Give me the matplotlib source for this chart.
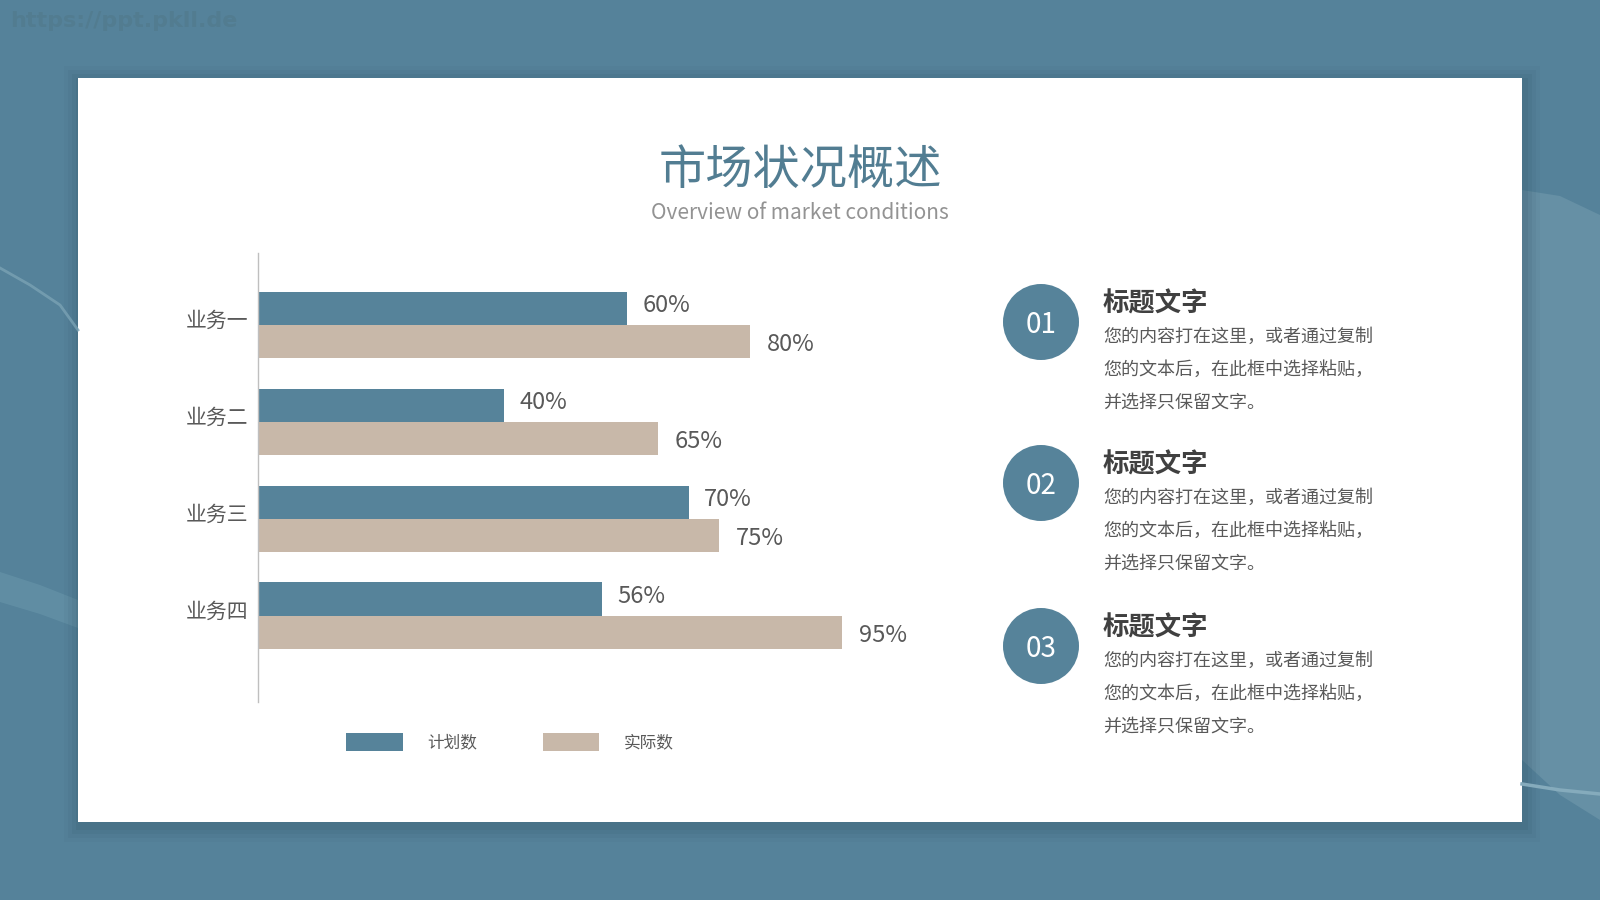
"""
市场状况概述：计划数 vs 实际数 横向条形图 + 右侧三段说明文字
"""

import matplotlib
matplotlib.use("Agg")
import matplotlib.pyplot as plt
import matplotlib.transforms as mtransforms
from matplotlib.patches import Rectangle, Circle, Polygon, Patch

plt.rcParams["font.family"] = ["Noto Sans CJK SC", "DejaVu Sans"]
plt.rcParams["axes.unicode_minus"] = False

# ─── 数据 ───────────────────────────────────────────────────────────────────
categories = ["业务一", "业务二", "业务三", "业务四"]
plan_vals = [60, 40, 70, 56]      # 计划数 (%)
actual_vals = [80, 65, 75, 95]    # 实际数 (%)
series_names = ["计划数", "实际数"]

item_nums = ["01", "02", "03"]
item_title = "标题文字"
item_lines = ["您的内容打在这里，或者通过复制",
              "您的文本后，在此框中选择粘贴，",
              "并选择只保留文字。"]
# ────────────────────────────────────────────────────────────────────────────

BG = "#55829a"
BLUE = "#56839a"
TAN = "#c8b8a9"
GRAY = "#595959"
W, H = 1600, 900


def fx(x):
    return x / W


def fy(y):
    return 1 - y / H


fig = plt.figure(figsize=(16, 9), dpi=100)
fig.patch.set_facecolor(BG)

# 背景层：像素坐标，y 轴向下
bg = fig.add_axes([0, 0, 1, 1])
bg.set_xlim(0, W)
bg.set_ylim(H, 0)
bg.axis("off")

# 背景装饰曲线
bg.add_patch(Polygon([(0, 572), (40, 585), (78, 600), (78, 628), (40, 614), (0, 602)],
                     closed=True, facecolor="#6391a6", edgecolor="none", alpha=0.8))
bg.plot([0, 30, 60, 78], [268, 285, 305, 330], color="#7aa2b4", lw=2, alpha=0.8)
bg.add_patch(Polygon([(1522, 190), (1560, 196), (1600, 215), (1600, 820), (1560, 795), (1522, 760)],
                     closed=True, facecolor="#6690a5", edgecolor="none"))
bg.plot([1522, 1560, 1600], [784, 790, 794], color="#85abbc", lw=2.5)

# 卡片阴影 + 白色卡片
for i, a in enumerate([0.05, 0.07, 0.09, 0.12]):
    d = 16 - i * 4
    bg.add_patch(Rectangle((78 - d + 2, 78 - d + 4), 1444 + 2 * d, 744 + 2 * d,
                           facecolor="#2e4f60", edgecolor="none", alpha=a))
bg.add_patch(Rectangle((78, 78), 1444, 744, facecolor="white", edgecolor="none"))

# 水印
bg.text(10, 21, "https://ppt.pkll.de", fontsize=16, fontweight="bold",
        color="#527c90", va="center", ha="left", family=["DejaVu Sans"])

# 标题
fig.text(fx(800), fy(171), "市场状况概述", fontsize=34, color="#527d92",
         ha="center", va="center")
fig.text(fx(800), fy(213), "Overview of market conditions", fontsize=15,
         color="#939393", ha="center", va="center")

# ─── 条形图 ─────────────────────────────────────────────────────────────────
ax_l, ax_r, ax_t, ax_b = 258, 873, 253, 702
ax = fig.add_axes([fx(ax_l), fy(ax_b), (ax_r - ax_l) / W, (ax_b - ax_t) / H])
ax.set_facecolor("none")

h = 0.345
ys = list(range(len(categories)))
ax.barh([y - h / 2 for y in ys], plan_vals, height=h, color=BLUE, label=series_names[0])
ax.barh([y + h / 2 for y in ys], actual_vals, height=h, color=TAN, label=series_names[1])

for y, v in zip(ys, plan_vals):
    ax.annotate(f"{v}%", xy=(v, y - h / 2), xytext=(11, 2), textcoords="offset points",
                va="center", ha="left", fontsize=17, color=GRAY)
for y, v in zip(ys, actual_vals):
    ax.annotate(f"{v}%", xy=(v, y + h / 2), xytext=(12, -2), textcoords="offset points",
                va="center", ha="left", fontsize=17, color=GRAY)

ax.set_xlim(0, 100)
ax.set_ylim(3.887, -0.742)
ax.set_yticks(ys)
ax.set_yticklabels(categories, fontsize=15, color=GRAY)
ax.tick_params(axis="y", length=0, pad=7)
# 类别标签略高于组中心
shift = mtransforms.ScaledTranslation(0, 5 / 72, fig.dpi_scale_trans)
for lbl in ax.get_yticklabels():
    lbl.set_transform(lbl.get_transform() + shift)
ax.set_xticks([])
for s in ["top", "right", "bottom"]:
    ax.spines[s].set_visible(False)
ax.spines["left"].set_color("#bfbfbf")
ax.spines["left"].set_linewidth(1)

handles = [Patch(facecolor=BLUE, label=series_names[0]),
           Patch(facecolor=TAN, label=series_names[1])]
fig.legend(handles=handles, loc="center", bbox_to_anchor=(fx(510), fy(742)),
           ncol=2, frameon=False, fontsize=12, handlelength=3.4, handleheight=1.3,
           handletextpad=1.5, columnspacing=3.9, labelcolor=GRAY)

# ─── 右侧说明 ───────────────────────────────────────────────────────────────
circle_ys = [322, 483, 646]
for num, cy in zip(item_nums, circle_ys):
    bg.add_patch(Circle((1041, cy), 38, facecolor=BLUE, edgecolor="none"))
    bg.text(1041, cy + 3, num, fontsize=20, color="white", ha="center", va="center")
    bg.text(1103, cy - 18, item_title, fontsize=19, fontweight="bold",
            color="#404040", ha="left", va="center")
    for k, line in enumerate(item_lines):
        bg.text(1103, cy + 15 + k * 33, line, fontsize=13, color=GRAY,
                ha="left", va="center")

fig.savefig("out.png", dpi=100, facecolor=fig.get_facecolor())
plt.close(fig)
